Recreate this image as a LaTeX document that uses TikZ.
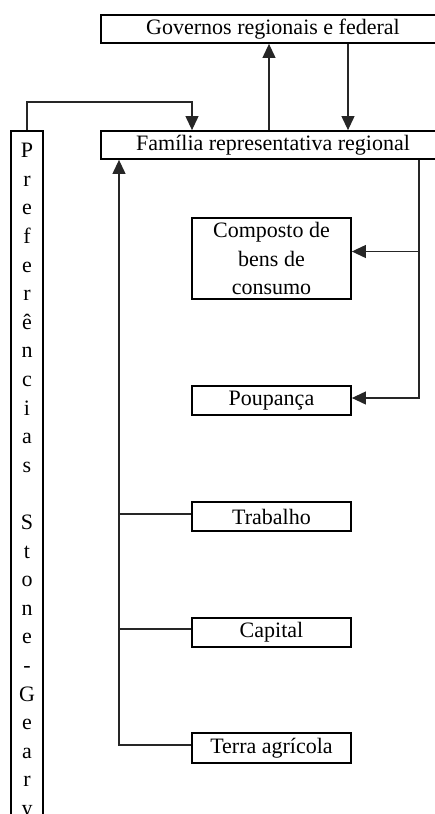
\documentclass[tikz,border=0pt]{standalone}
\usepackage{fontspec}
\setmainfont{Liberation Serif}
\usetikzlibrary{arrows.meta}
\begin{document}
\begin{tikzpicture}[x=1pt,y=-1pt,
  box/.style={draw=black,line width=1.8pt,rectangle,inner sep=0pt,
    font=\fontsize{22}{28.6}\selectfont,align=center},
  conn/.style={draw=black!85,line width=1.1pt},
  arr/.style={conn,-{Triangle[length=14pt,width=13pt]}}]
\useasboundingbox (0,0) rectangle (435,814);
\node[box,minimum width=344pt,minimum height=28pt] (gov) at (273,29) {Governos regionais e federal};
\node[box,minimum width=344pt,minimum height=28pt] (fam) at (273,145) {Família representativa regional};
\node[box,minimum width=159pt,minimum height=81pt] (comp) at (271.5,258.5) {Composto de\\bens de\\consumo};
\node[box,minimum width=159pt,minimum height=29pt] (poup) at (271.5,400.5) {Poupança};
\node[box,minimum width=159pt,minimum height=29pt] (trab) at (271.5,516.5) {Trabalho};
\node[box,minimum width=159pt,minimum height=29pt] (cap) at (271.5,632.5) {Capital};
\node[box,minimum width=159pt,minimum height=30pt] (terra) at (271.5,748) {Terra agrícola};
\node[box,anchor=north,minimum width=32pt,inner ysep=12.4pt] (pref) at (27,130)
  {P\\r\\e\\f\\e\\r\\ê\\n\\c\\i\\a\\s\\\mbox{}\\S\\t\\o\\n\\e\\-\\G\\e\\a\\r\\y};
\coordinate (xa) at (269,0);
\coordinate (xb) at (348,0);
\coordinate (c1) at (192,102);
\coordinate (xr) at (419,0);
\coordinate (xl) at (119,0);
\draw[arr] (fam.north -| xa) -- (gov.south -| xa);
\draw[arr] (gov.south -| xb) -- (fam.north -| xb);
\draw[arr] (pref.north) |- (c1) -- (fam.north -| c1);
\draw[arr] (fam.south -| xr) |- ([yshift=2.5pt]poup.east);
\draw[arr] ([yshift=7pt]comp.east -| xr) -- ([yshift=7pt]comp.east);
\draw[arr] ([yshift=3pt]terra.west) -| (fam.south -| xl);
\draw[conn] ([yshift=2.5pt]trab.west) -- ([yshift=2.5pt]trab.west -| xl);
\draw[conn] ([yshift=3.5pt]cap.west) -- ([yshift=3.5pt]cap.west -| xl);
\end{tikzpicture}
\end{document}
